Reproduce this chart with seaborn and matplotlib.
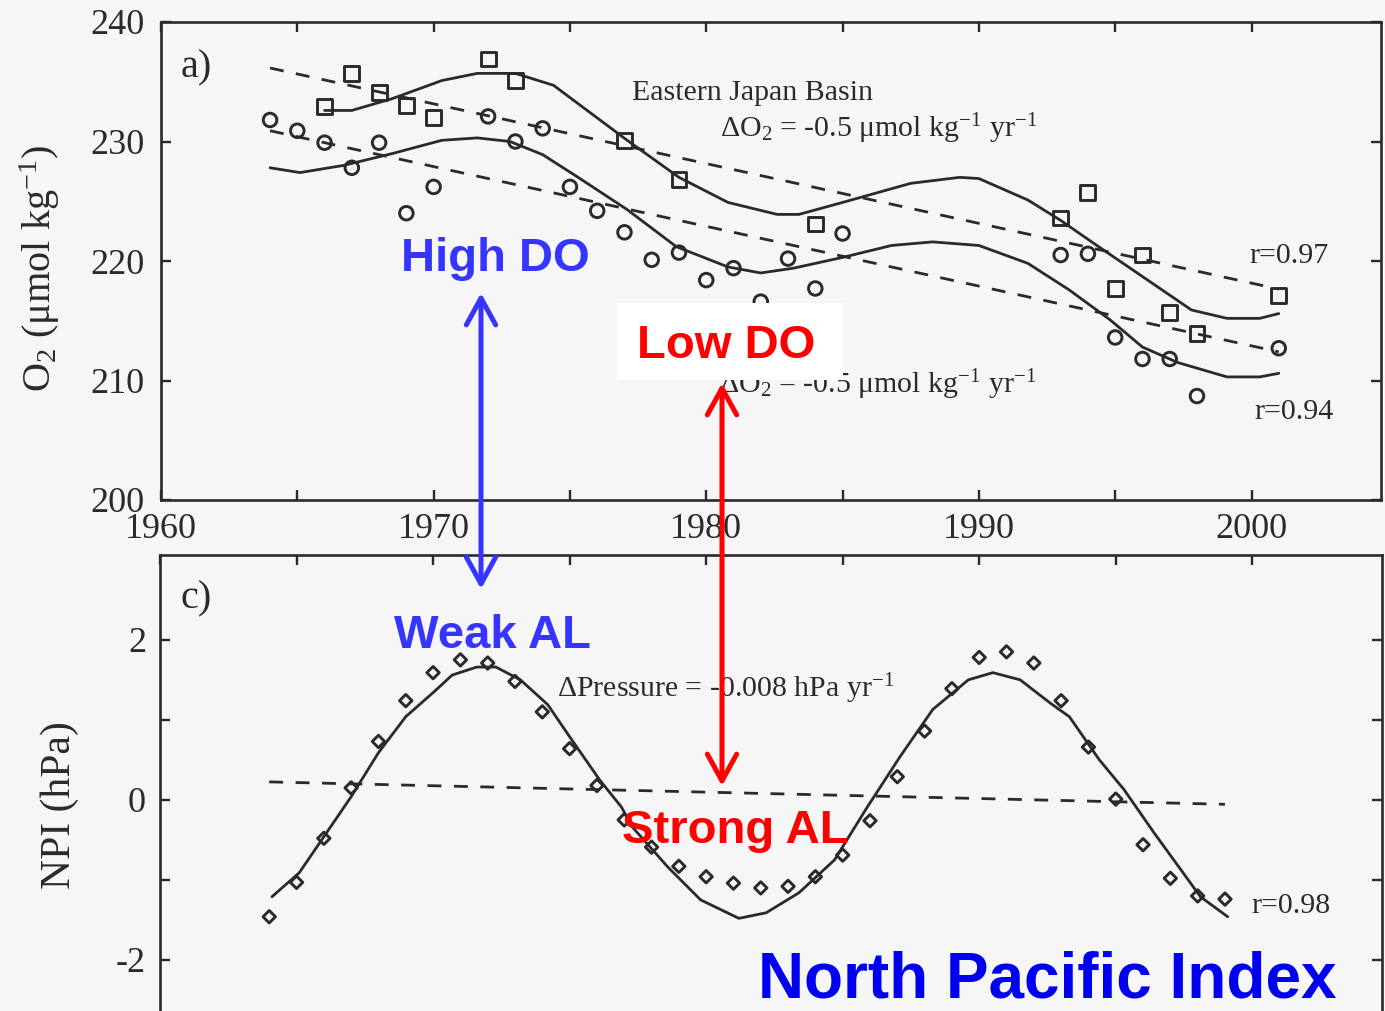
import matplotlib
matplotlib.use("Agg")
import matplotlib.pyplot as plt
from matplotlib.patches import Rectangle, FancyArrowPatch, ArrowStyle
import seaborn as sns

# ---------------- data ----------------
# Eastern Japan Basin dissolved oxygen (umol/kg), two depth series
circle_years = [1964, 1965, 1966, 1967, 1968, 1969, 1970, 1972, 1973, 1974, 1975,
                1976, 1977, 1978, 1979, 1980, 1981, 1982, 1983, 1984, 1985,
                1993, 1994, 1995, 1996, 1997, 1998, 2001]
circle_o2 = [231.8, 230.9, 229.9, 227.8, 229.9, 224.0, 226.2, 232.1, 230.0, 231.1, 226.2,
             224.2, 222.4, 220.1, 220.7, 218.4, 219.4, 216.6, 220.2, 217.7, 222.3,
             220.5, 220.6, 213.6, 211.8, 211.8, 208.7, 212.7]

square_years = [1966, 1967, 1968, 1969, 1970, 1972, 1973, 1977, 1979, 1984,
                1993, 1994, 1995, 1996, 1997, 1998, 2001]
square_o2 = [232.9, 235.7, 234.1, 233.0, 232.0, 236.9, 235.1, 230.1, 226.8, 223.1,
             223.6, 225.7, 217.7, 220.5, 215.7, 213.9, 217.1]

# smoothed curves
upper_fit_years = [1966.0, 1967.0, 1968.5, 1970.3, 1971.6, 1973.0, 1974.4, 1977.1, 1979.0,
                   1980.8, 1982.6, 1983.4, 1985.0, 1987.5, 1989.3, 1990.0, 1991.8, 1993.0,
                   1994.2, 1996.0, 1997.8, 1999.1, 2000.3, 2001.0]
upper_fit_o2 = [232.6, 232.6, 233.6, 235.1, 235.7, 235.7, 234.7, 230.1, 227.0,
                224.9, 223.9, 223.9, 224.9, 226.5, 227.0, 226.9, 225.1, 223.4,
                221.5, 218.7, 215.9, 215.2, 215.2, 215.6]

lower_fit_years = [1964.0, 1965.1, 1966.7, 1968.5, 1970.3, 1971.6, 1972.8, 1974.0, 1975.3,
                   1977.1, 1978.9, 1980.8, 1982.0, 1983.2, 1985.0, 1986.8, 1988.3, 1990.0,
                   1991.8, 1993.3, 1994.8, 1996.0, 1997.3, 1999.1, 2000.3, 2001.0]
lower_fit_o2 = [227.8, 227.4, 228.0, 229.0, 230.1, 230.3, 230.0, 228.9, 227.0,
                224.3, 221.2, 219.5, 219.0, 219.4, 220.3, 221.3, 221.6, 221.3,
                219.8, 217.6, 215.1, 212.8, 211.5, 210.3, 210.3, 210.6]

# linear trends: -0.5 umol/kg/yr through the period centre
O2_RATE = -0.5
O2_TREND_SPAN = [1964, 2001]
O2_TREND_CENTRE_YEAR = 1982.5
upper_trend_centre = 226.9
lower_trend_centre = 221.65

# North Pacific Index (hPa)
npi_years = [1964, 1965, 1966, 1967, 1968, 1969, 1970, 1971, 1972, 1973, 1974, 1975,
             1976, 1977, 1978, 1979, 1980, 1981, 1982, 1983, 1984, 1985, 1986, 1987,
             1988, 1989, 1990, 1991, 1992, 1993, 1994, 1995, 1996, 1997, 1998, 1999]
npi = [-1.46, -1.03, -0.48, 0.15, 0.73, 1.24, 1.59, 1.75, 1.71, 1.48, 1.10, 0.64,
       0.18, -0.25, -0.59, -0.83, -0.96, -1.04, -1.10, -1.08, -0.96, -0.69, -0.26, 0.29,
       0.86, 1.39, 1.78, 1.85, 1.71, 1.24, 0.66, 0.01, -0.56, -0.98, -1.20, -1.24]

npi_fit_years = [1964.1, 1965.1, 1966.1, 1967.0, 1968.0, 1969.0, 1970.0, 1970.7, 1971.6,
                 1972.3, 1973.2, 1974.2, 1975.0, 1976.1, 1976.9, 1977.3, 1978.6, 1979.8,
                 1981.2, 1982.2, 1983.4, 1984.7, 1985.9, 1987.1, 1988.3, 1989.6, 1990.5,
                 1991.5, 1992.6, 1993.3, 1994.4, 1995.3, 1996.4, 1997.4, 1998.1, 1999.1]
npi_fit = [-1.21, -0.91, -0.41, 0.04, 0.59, 1.04, 1.34, 1.56, 1.66,
           1.66, 1.50, 1.19, 0.79, 0.25, -0.09, -0.34, -0.84, -1.25,
           -1.48, -1.41, -1.16, -0.75, -0.09, 0.54, 1.13, 1.50, 1.59,
           1.50, 1.21, 1.04, 0.50, 0.13, -0.41, -0.88, -1.21, -1.46]

NPI_RATE = -0.008
NPI_TREND_SPAN = [1964, 1999]
NPI_TREND_CENTRE_YEAR = 1981.5
npi_trend_centre = 0.085

# ---------------- style ----------------
sns.set_theme(style="ticks")
BG = "#f6f6f6"
INK = "#2a2a2a"
BLUE = "#3535ff"
DEEP_BLUE = "#0000f0"
RED = "#ff0000"
SERIF = ["Liberation Serif", "DejaVu Serif"]
SANS = ["Liberation Sans", "DejaVu Sans"]
plt.rcParams["font.family"] = SERIF
plt.rcParams["mathtext.fontset"] = "custom"
plt.rcParams["mathtext.rm"] = "Liberation Serif"
plt.rcParams["mathtext.it"] = "Liberation Serif:italic"
plt.rcParams["axes.unicode_minus"] = False

W, H = 1385, 1011
fig = plt.figure(figsize=(W / 100, H / 100), dpi=100, facecolor=BG)


def fx(px):
    return px / W


def fy(py):
    return 1 - py / H


def rect(left, top, right, bottom):
    return [fx(left), fy(bottom), (right - left) / W, (bottom - top) / H]


ax_o2 = fig.add_axes(rect(161, 22, 1381, 500))
ax_npi = fig.add_axes(rect(160, 555, 1382, 1040))
XLIM = (1960, 2004.75)


def trend(span, centre_year, centre_value, rate):
    return [centre_value + rate * (y - centre_year) for y in span]


# ---- panel a: oxygen ----
line_kw = dict(color=INK, linewidth=2.0, estimator=None, sort=False, legend=False)
dash = (0, (5, 4.5))
sns.lineplot(x=upper_fit_years, y=upper_fit_o2, ax=ax_o2, **line_kw)
sns.lineplot(x=lower_fit_years, y=lower_fit_o2, ax=ax_o2, **line_kw)
sns.lineplot(x=O2_TREND_SPAN,
             y=trend(O2_TREND_SPAN, O2_TREND_CENTRE_YEAR, upper_trend_centre, O2_RATE),
             ax=ax_o2, linestyle=dash, **line_kw)
sns.lineplot(x=O2_TREND_SPAN,
             y=trend(O2_TREND_SPAN, O2_TREND_CENTRE_YEAR, lower_trend_centre, O2_RATE),
             ax=ax_o2, linestyle=dash, **line_kw)
sns.scatterplot(x=square_years, y=square_o2, ax=ax_o2, marker="s", s=115,
                facecolor="none", edgecolor=INK, linewidth=2.1, zorder=3, legend=False)
sns.scatterplot(x=circle_years, y=circle_o2, ax=ax_o2, marker="o", s=95,
                facecolor="none", edgecolor=INK, linewidth=2.1, zorder=3, legend=False)

ax_o2.set_xlim(*XLIM)
ax_o2.set_ylim(200, 240)
ax_o2.set_xticks([1960, 1965, 1970, 1975, 1980, 1985, 1990, 1995, 2000])
ax_o2.set_xticklabels(["1960", "", "1970", "", "1980", "", "1990", "", "2000"])
ax_o2.set_yticks([200, 210, 220, 230, 240])
ax_o2.set_yticklabels(["200", "210", "220", "230", "240"])
ax_o2.tick_params(axis="x", pad=9)
ax_o2.tick_params(axis="y", pad=12)
ax_o2.set_xlabel("")
ax_o2.set_ylabel("O$_2$ (μmol kg$^{-1}$)", fontsize=29, color=INK)
ax_o2.yaxis.set_label_coords(-0.081, 0.485)

ax_o2.text(0.029, 0.905, "a)", transform=ax_o2.transAxes, fontsize=29,
           color=INK, ha="center", va="center")

# ---- panel c: North Pacific Index ----
sns.lineplot(x=npi_fit_years, y=npi_fit, ax=ax_npi, **line_kw)
sns.lineplot(x=NPI_TREND_SPAN,
             y=trend(NPI_TREND_SPAN, NPI_TREND_CENTRE_YEAR, npi_trend_centre, NPI_RATE),
             ax=ax_npi, linestyle=dash, **line_kw)
sns.scatterplot(x=npi_years, y=npi, ax=ax_npi, marker="D", s=40,
                facecolor="none", edgecolor=INK, linewidth=2.1, zorder=3, legend=False)

ax_npi.set_xlim(*XLIM)
ax_npi.set_ylim(-3, 3.06)
ax_npi.set_xticks([1960, 1965, 1970, 1975, 1980, 1985, 1990, 1995, 2000])
ax_npi.set_yticks([-2, -1, 0, 1, 2])
ax_npi.set_yticklabels(["-2", "", "0", "", "2"])
ax_npi.tick_params(axis="y", pad=10)
ax_npi.tick_params(axis="x", labelbottom=False)
ax_npi.set_xlabel("")
ax_npi.set_ylabel("NPI (hPa)", fontsize=30, color=INK)
ax_npi.yaxis.set_label_coords(-0.066, 0.485)
ax_npi.text(0.0295, 0.91, "c)", transform=ax_npi.transAxes, fontsize=29,
            color=INK, ha="center", va="center")

for ax in (ax_o2, ax_npi):
    ax.set_facecolor("none")
    for sp in ax.spines.values():
        sp.set_visible(True)
        sp.set_linewidth(1.9)
        sp.set_color(INK)
    ax.tick_params(direction="in", length=7, width=1.7, color=INK,
                   top=True, right=True, labelsize=26, labelcolor=INK)

# ---- serif annotations ----
serif_kw = dict(transform=fig.transFigure, fontsize=21.5, color=INK, va="baseline", ha="left")
ax_o2.text(fx(632), fy(100), "Eastern Japan Basin", **serif_kw)
ax_o2.text(fx(720), fy(137), "ΔO$_2$ = -0.5 μmol kg$^{-1}$ yr$^{-1}$", **serif_kw)
ax_o2.text(fx(1249), fy(263), "r=0.97", **serif_kw)
ax_o2.text(fx(719), fy(393), "ΔO$_2$ = -0.5 μmol kg$^{-1}$ yr$^{-1}$", **serif_kw)
ax_o2.text(fx(1254), fy(419), "r=0.94", **serif_kw)
ax_npi.text(fx(557), fy(697), "ΔPressure = -0.008 hPa yr$^{-1}$", **serif_kw)
ax_npi.text(fx(1251), fy(913), "r=0.98", **serif_kw)

# ---- highlighted annotations ----
fig.patches.append(Rectangle((fx(617), fy(380)), (843 - 617) / W, (380 - 303) / H,
                             transform=fig.transFigure, facecolor="white",
                             edgecolor="none", zorder=2))

bold_kw = dict(fontsize=34, fontweight="bold", family=SANS, ha="center",
               va="baseline", zorder=5)
fig.text(fx(495), fy(271), "High DO", color=BLUE, **bold_kw)
fig.text(fx(493), fy(648), "Weak AL", color=BLUE, **bold_kw)
fig.text(fx(726), fy(358), "Low DO", color=RED, **bold_kw)
fig.text(fx(735), fy(843), "Strong AL", color=RED, **bold_kw)
fig.text(fx(1047), fy(997), "North Pacific Index", color=DEEP_BLUE, fontsize=46,
         fontweight="bold", family=SANS, ha="center", va="baseline", zorder=5)

head = ArrowStyle("<->", head_length=0.6, head_width=0.33)
for x, y0, y1, col in [(481, 293, 589, BLUE), (722, 383, 786, RED)]:
    arr = FancyArrowPatch((fx(x), fy(y0)), (fx(x), fy(y1)), transform=fig.transFigure,
                          arrowstyle=head, mutation_scale=32, color=col,
                          linewidth=3.6, shrinkA=0, shrinkB=0, zorder=6)
    fig.patches.append(arr)

fig.savefig("out.png", dpi=100, facecolor=BG)
